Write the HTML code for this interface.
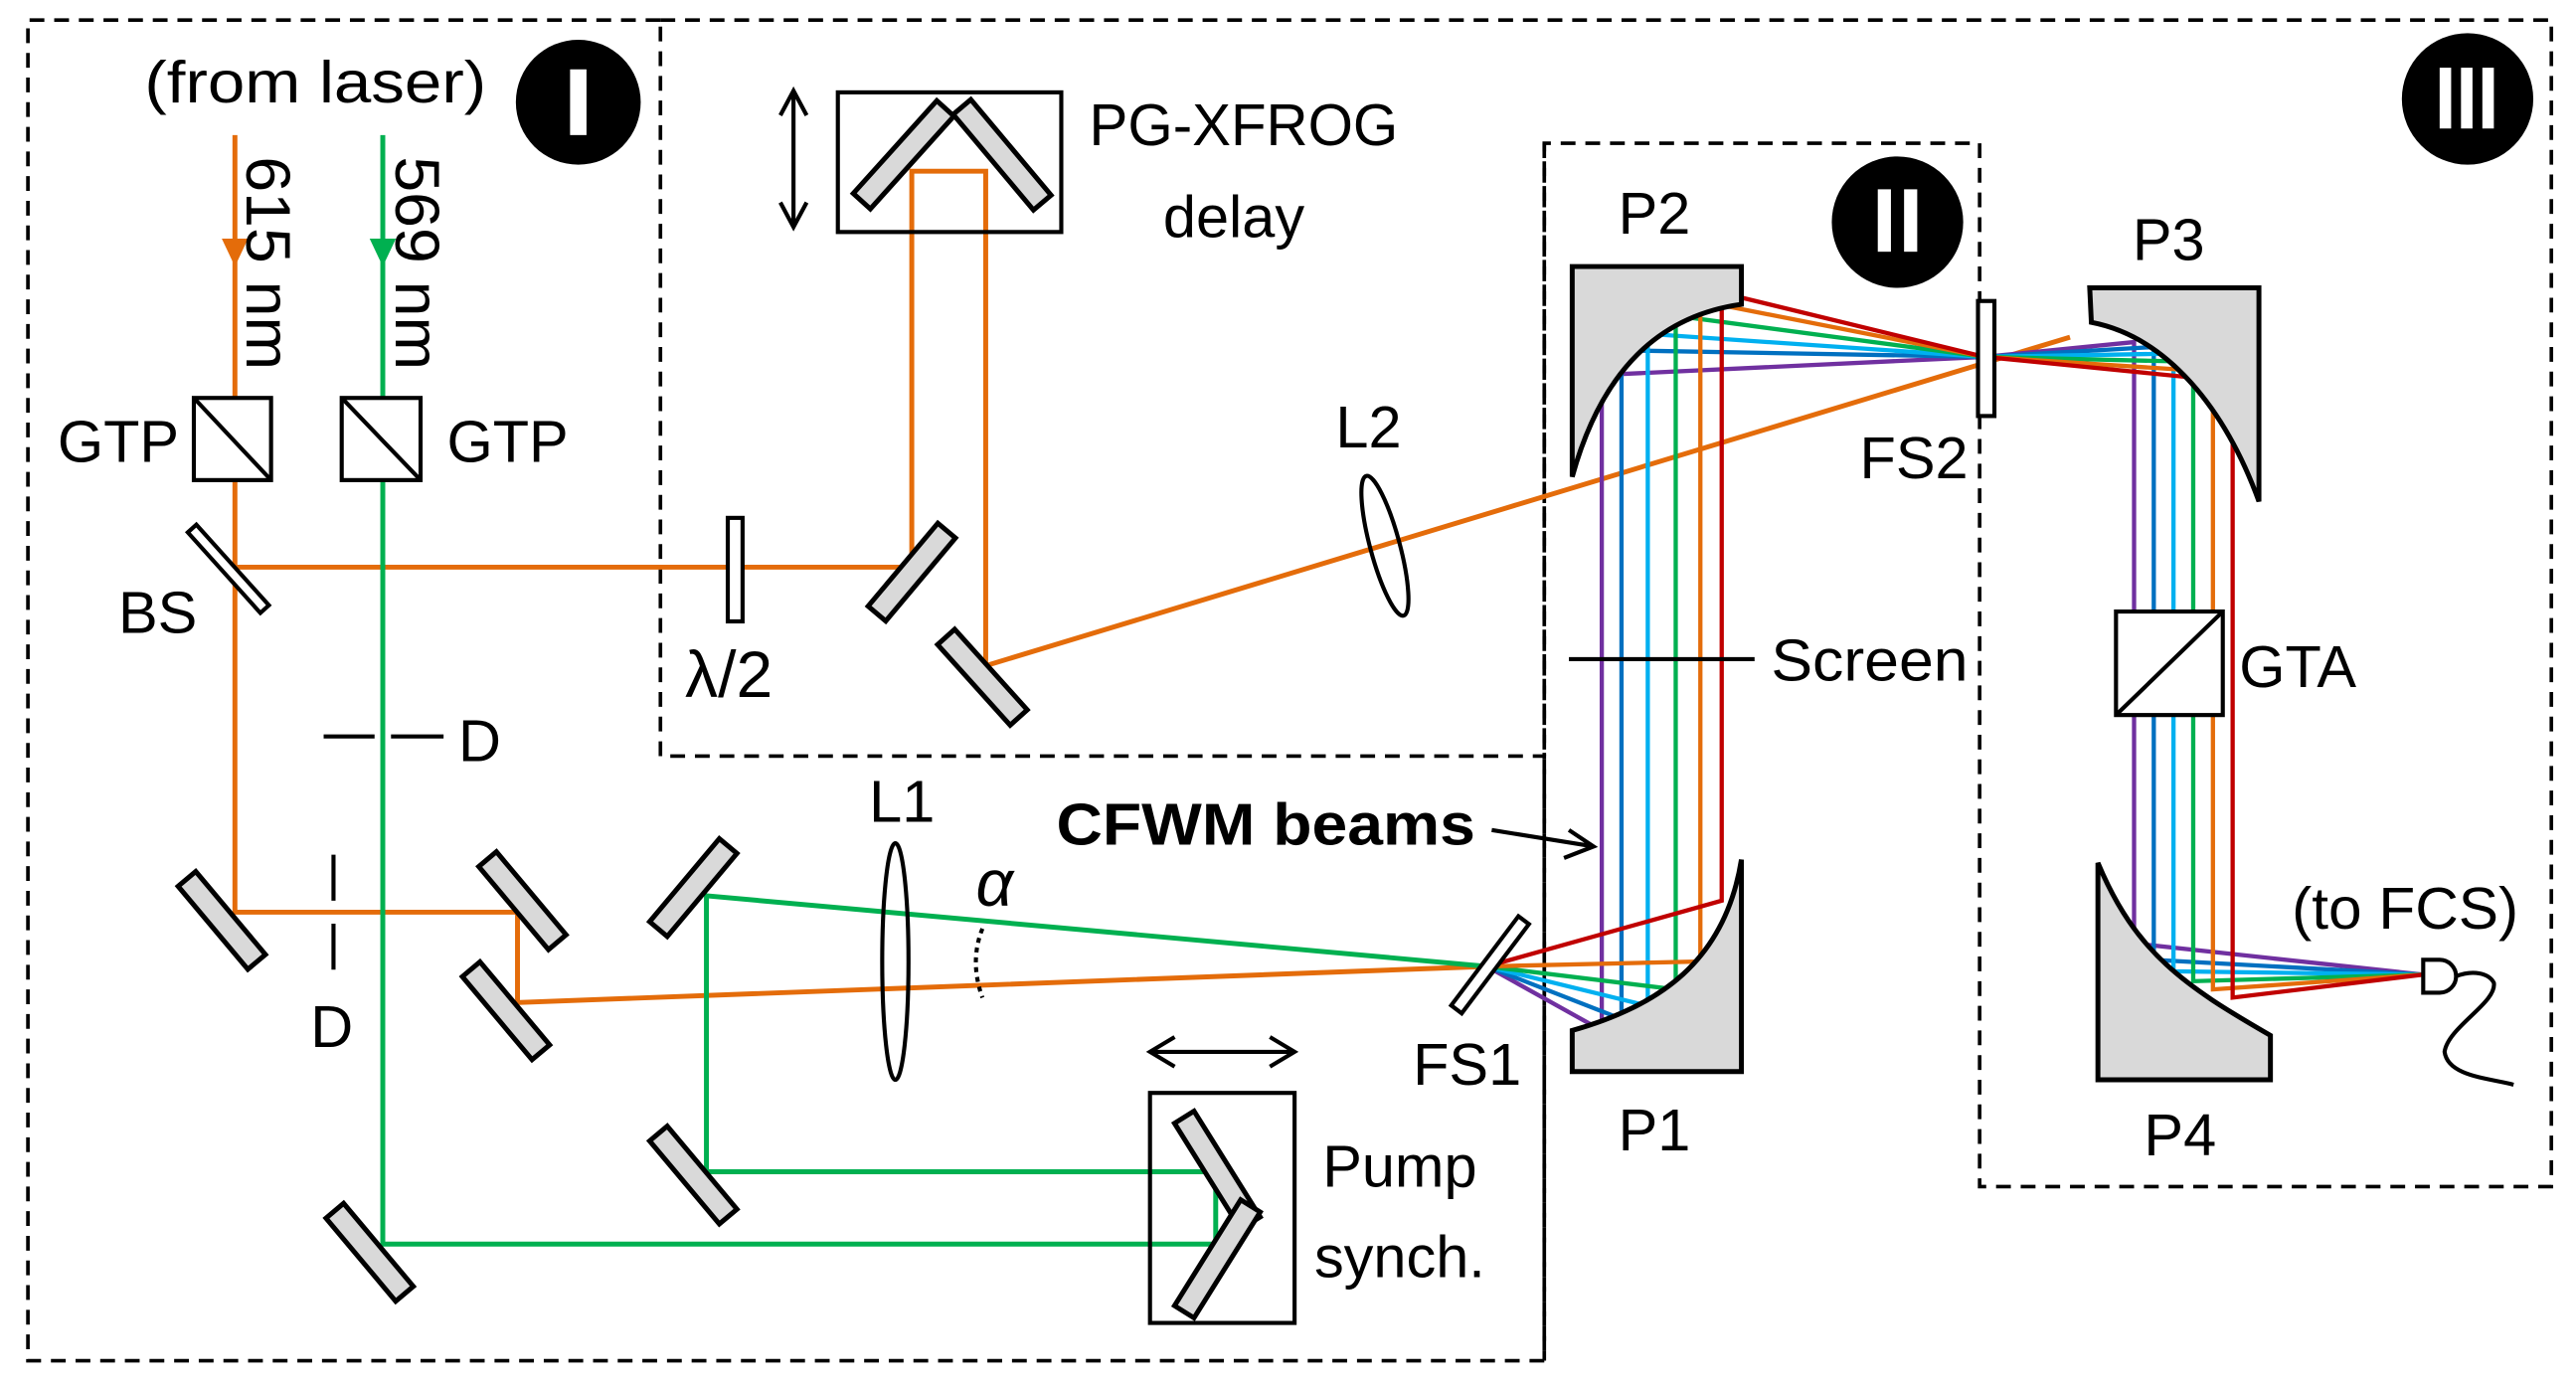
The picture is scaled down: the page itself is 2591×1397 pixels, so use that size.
<!DOCTYPE html>
<html><head><meta charset="utf-8"><style>
html,body{margin:0;padding:0;background:#fff}
svg{display:block}
text{font-family:"Liberation Sans",sans-serif;fill:#000}
</style></head><body>
<svg width="2591" height="1397" viewBox="0 0 1568 845" xmlns="http://www.w3.org/2000/svg">
<defs>
<g id="m"><rect x="-33" y="-7" width="66" height="14" fill="#d9d9d9" stroke="#000" stroke-width="3"/></g>
<g id="mr"><rect x="-38" y="-7" width="76" height="14" fill="#d9d9d9" stroke="#000" stroke-width="3"/></g>
</defs>
<g fill="none" stroke="#000" stroke-width="2.2" stroke-dasharray="9,6">
<path d="M402,12 H17 V828 H940 V460 H402 Z"/>
<path d="M402,12 H1553 V722 H1205 V87 H940 V460"/>
<path d="M940,87 V828"/>
</g>
<circle cx="352" cy="62" r="38" fill="#000"/>
<rect x="347" y="42" width="10" height="40" fill="#fff"/>
<circle cx="1155" cy="135" r="40" fill="#000"/>
<rect x="1143" y="115" width="8" height="38" fill="#fff"/><rect x="1159" y="115" width="8" height="38" fill="#fff"/>
<circle cx="1502" cy="60" r="40" fill="#000"/>
<rect x="1485" y="41" width="7" height="37" fill="#fff"/><rect x="1498" y="41" width="7" height="37" fill="#fff"/><rect x="1511" y="41" width="7" height="37" fill="#fff"/>

<g fill="none" stroke="#E46C0A" stroke-width="3">
<path d="M143,82 V345 H555 V104 H600 V405 L1260,205"/>
<path d="M143,345 V555 H315 V610 L905,588"/>
</g>
<polygon points="135,145 151,145 143,162" fill="#E46C0A"/>
<g fill="none" stroke="#00B050" stroke-width="3">
<path d="M233,82 V757 H740 V713 H430 V545 L905,588"/>
</g>
<polygon points="225,145 241,145 233,162" fill="#00B050"/>

<g fill="none" stroke-width="2.6">
<path stroke="#7030A0" d="M905,588 L975,627 V228 L1208,217"/>
<path stroke="#0070C0" d="M905,588 L987,620 V213 L1208,217"/>
<path stroke="#00B0F0" d="M905,588 L1003,612 V203 L1208,217"/>
<path stroke="#00B050" d="M905,588 L1020,602 V192 L1208,217"/>
<path stroke="#E46C0A" d="M905,588 L1035,585 V183 L1208,217"/>
<path stroke="#C00000" d="M905,588 L1048,548 V178 L1208,217"/>
<path stroke="#7030A0" d="M1208,217 L1299,208 V574 L1475,593"/>
<path stroke="#0070C0" d="M1208,217 L1311,211 V584 L1475,593"/>
<path stroke="#00B0F0" d="M1208,217 L1323,215 V591 L1475,593"/>
<path stroke="#00B050" d="M1208,217 L1335,220 V597 L1475,593"/>
<path stroke="#E46C0A" d="M1208,217 L1347,226 V602 L1475,593"/>
<path stroke="#C00000" d="M1208,217 L1359,232 V607 L1475,593"/>
</g>

<g fill="#d9d9d9" stroke="#000" stroke-width="3">
<path d="M957,290 V162 H1060 V185 C1010,192 975,225 957,290 Z"/>
<path d="M1060,523 V652 H957 V627 C1010,612 1050,585 1060,523 Z"/>
<path d="M1272,175 H1375 V305 C1355,250 1320,205 1273,196 Z"/>
<path d="M1277,525 C1300,580 1330,600 1382,630 V657 H1277 Z"/>
</g>

<use href="#m" transform="translate(555,348) rotate(-50)"/>
<use href="#m" transform="translate(598,412) rotate(48)"/>
<use href="#mr" transform="translate(550,94) rotate(-48)"/>
<use href="#mr" transform="translate(610,94) rotate(50)"/>
<use href="#m" transform="translate(135,560) rotate(50)"/>
<use href="#m" transform="translate(318,548) rotate(50)"/>
<use href="#m" transform="translate(308,615) rotate(50)"/>
<use href="#m" transform="translate(422,540) rotate(-50)"/>
<use href="#m" transform="translate(422,715) rotate(50)"/>
<use href="#m" transform="translate(225,762) rotate(50)"/>
<use href="#mr" transform="translate(741,712) rotate(58)"/>
<use href="#mr" transform="translate(741,766) rotate(-58)"/>
<rect x="-33" y="-3.5" width="66" height="7" fill="#fff" stroke="#000" stroke-width="2.5" transform="translate(139,346) rotate(48)"/>
<rect x="-34" y="-4" width="68" height="8" fill="#fff" stroke="#000" stroke-width="2.5" transform="translate(907,587) rotate(-53)"/>
<rect x="443" y="315" width="9" height="63" fill="#fff" stroke="#000" stroke-width="2.5"/>
<rect x="1204" y="183" width="10" height="70" fill="#fff" stroke="#000" stroke-width="2.5"/>
<ellipse cx="545" cy="585" rx="8" ry="72" fill="none" stroke="#000" stroke-width="2.5"/>
<ellipse cx="843" cy="332" rx="9" ry="44" fill="none" stroke="#000" stroke-width="2.5" transform="rotate(-15 843 332)"/>
<g fill="#fff" stroke="#000" stroke-width="2.5">
<rect x="118" y="242" width="47" height="50"/><line x1="118" y1="242" x2="165" y2="292"/>
<rect x="208" y="242" width="48" height="50"/><line x1="208" y1="242" x2="256" y2="292"/>
<rect x="1288" y="372" width="65" height="63"/><line x1="1288" y1="435" x2="1353" y2="372"/>
</g>
<g fill="none" stroke="#000" stroke-width="2.5">
<rect x="510" y="56" width="136" height="85"/>
<rect x="700" y="665" width="88" height="140"/>
<path d="M483,55 V138 M475,70 L483,55 L491,70 M475,123 L483,138 L491,123"/>
<path d="M700,640 H788 M715,631 L700,640 L715,649 M773,631 L788,640 L773,649"/>
<path d="M197,448 H228 M238,448 H270"/>
<path d="M203,520 V548 M203,562 V590"/>
<path d="M955,401 H1068"/>
<path d="M908,505 L970,515 M955,505 L970,515 L952,522"/>
<path d="M1475,584 H1485 A10,10 0 0 1 1485,604 H1475 Z" fill="#fff"/>
<path d="M1495,594 C1505,590 1515,592 1518,598 C1520,610 1490,625 1488,640 C1490,655 1515,656 1530,660"/>
</g>
<path d="M598,565 Q590,585 598,607" fill="none" stroke="#000" stroke-width="2.5" stroke-dasharray="3,3"/>

<g font-size="36">
<text x="88" y="62" textLength="208" lengthAdjust="spacingAndGlyphs">(from laser)</text>
<text transform="translate(150,95) rotate(90)" font-size="38" textLength="130" lengthAdjust="spacingAndGlyphs">615 nm</text>
<text transform="translate(241,95) rotate(90)" font-size="38" textLength="130" lengthAdjust="spacingAndGlyphs">569 nm</text>
<text x="35" y="281">GTP</text>
<text x="272" y="281">GTP</text>
<text x="72" y="385">BS</text>
<text x="417" y="424" font-size="40">λ/2</text>
<text x="279" y="463">D</text>
<text x="189" y="637">D</text>
<text x="663" y="88" textLength="188" lengthAdjust="spacingAndGlyphs">PG-XFROG</text>
<text x="708" y="144">delay</text>
<text x="813" y="272">L2</text>
<text x="985" y="142">P2</text>
<text x="1132" y="291">FS2</text>
<text x="1298" y="158">P3</text>
<text x="1078" y="414" textLength="120" lengthAdjust="spacingAndGlyphs">Screen</text>
<text x="1363" y="418">GTA</text>
<text x="529" y="500">L1</text>
<text x="594" y="551" font-family="Liberation Serif" font-style="italic" font-size="40">α</text>
<text x="860" y="660">FS1</text>
<text x="985" y="700">P1</text>
<text x="1305" y="703">P4</text>
<text x="1395" y="565" textLength="138" lengthAdjust="spacingAndGlyphs">(to FCS)</text>
<text x="805" y="722">Pump</text>
<text x="800" y="777">synch.</text>
<text x="643" y="514" font-weight="bold" textLength="255" lengthAdjust="spacingAndGlyphs">CFWM beams</text>
</g>
</svg>
</body></html>
